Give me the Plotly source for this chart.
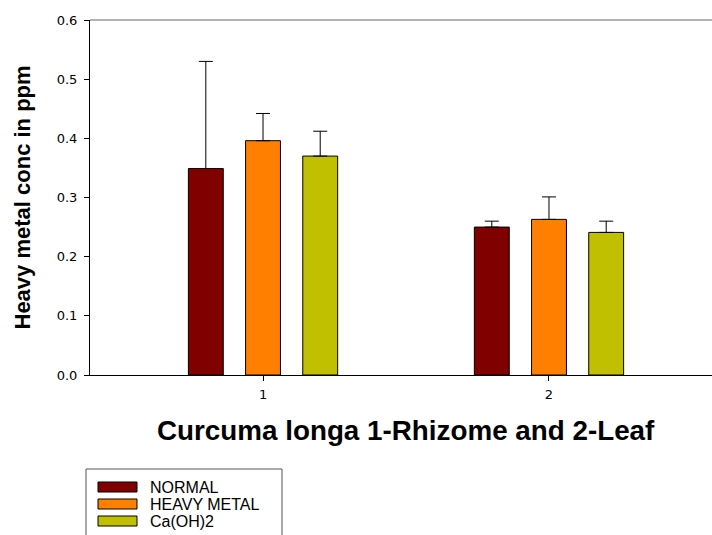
import plotly.graph_objects as go

categories = [1, 2]
series_names = ["NORMAL", "HEAVY METAL", "Ca(OH)2"]
normal = [0.349, 0.250]
heavy_metal = [0.396, 0.263]
caoh2 = [0.370, 0.241]
normal_err = [0.181, 0.010]
heavy_metal_err = [0.046, 0.038]
caoh2_err = [0.042, 0.019]
colors = ["#800000", "#FF8000", "#C0C000"]
y_ticks = [0.0, 0.1, 0.2, 0.3, 0.4, 0.5, 0.6]
x_title = "Curcuma longa 1-Rhizome and 2-Leaf"
y_title = "Heavy metal conc in ppm"

FONT = "Arial, Liberation Sans, sans-serif"
WIDE = "DejaVu Sans, Arial, sans-serif"

W, H = 712, 535
L, R, T, B = 90, 0, 20, 160
PW, PH = W - L - R, H - T - B


def px(xp):
    return (xp - L) / PW


def py(yp):
    return (H - B - yp) / PH


fig = go.Figure()
for name, vals, errs, col in zip(series_names, [normal, heavy_metal, caoh2],
                                 [normal_err, heavy_metal_err, caoh2_err], colors):
    fig.add_trace(go.Bar(
        x=categories, y=vals, name=name, showlegend=False,
        marker=dict(color=col, line=dict(color="black", width=1)),
        error_y=dict(type="data", array=errs, symmetric=False, arrayminus=[0]*len(errs),
                     color="black", thickness=1, width=7),
    ))

fig.update_layout(
    width=W, height=H,
    margin=dict(l=L, r=R, t=T, b=B, autoexpand=False),
    paper_bgcolor="white", plot_bgcolor="white",
    barmode="group", bargap=0.4, bargroupgap=0.39,
    font=dict(family=WIDE, color="black", size=13),
    xaxis=dict(
        range=[0.395, 2.570], tickvals=categories, ticktext=["1", "2"],
        showline=True, linecolor="black", linewidth=1, mirror=False,
        ticks="outside", ticklen=5, tickcolor="black",
        showgrid=False, zeroline=False, automargin=False,
        tickfont=dict(family=WIDE, size=13), ticklabelstandoff=2,
    ),
    yaxis=dict(
        range=[0, 0.6], tickvals=y_ticks, tickformat=".1f",
        showline=True, linecolor="black", linewidth=1,
        ticks="outside", ticklen=5, tickcolor="black",
        showgrid=False, zeroline=False, automargin=False,
        tickfont=dict(family=WIDE, size=13), ticklabelstandoff=4,
    ),
)
# axis titles
fig.add_annotation(text="<b>" + y_title + "</b>", xref="paper", yref="paper",
                   x=px(22), y=0.5, textangle=-90, showarrow=False,
                   xanchor="center", yanchor="middle",
                   font=dict(family=FONT, size=22, color="black"))
fig.add_annotation(text="<b>" + x_title + "</b>", xref="paper", yref="paper",
                   x=px(406), y=py(430), showarrow=False,
                   xanchor="center", yanchor="middle",
                   font=dict(family=FONT, size=27.8, color="black"))
# top frame line
fig.add_shape(type="line", xref="paper", yref="paper", x0=0, x1=1.02, y0=1, y1=1,
              line=dict(color="#666666", width=1))

# legend box (drawn manually to match the wide swatches)
fig.add_shape(type="rect", xref="paper", yref="paper",
              x0=px(86), x1=px(282), y0=py(545), y1=py(469),
              line=dict(color="#555555", width=1), fillcolor="white")
for i, (name, col) in enumerate(zip(series_names, colors)):
    yc = 487 + 17 * i
    fig.add_shape(type="rect", xref="paper", yref="paper",
                  x0=px(98), x1=px(137), y0=py(yc + 5), y1=py(yc - 5),
                  line=dict(color="black", width=1), fillcolor=col)
    fig.add_annotation(text=name, xref="paper", yref="paper",
                       x=px(148), y=py(yc), showarrow=False,
                       xanchor="left", yanchor="middle",
                       font=dict(family=FONT, size=16, color="black"))

fig.write_html("out.html", config={"displayModeBar": False},
               post_script="document.body.style.margin='0';document.body.style.overflow='hidden';")
